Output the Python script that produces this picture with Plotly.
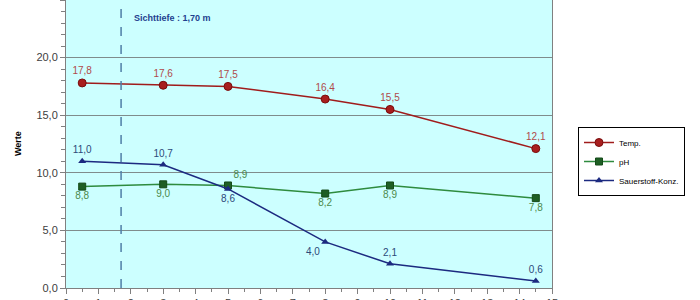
import plotly.graph_objects as go

depth = [0.5, 3.0, 5.0, 8.0, 10.0, 14.5]
temp = [17.8, 17.6, 17.5, 16.4, 15.5, 12.1]
ph = [8.8, 9.0, 8.9, 8.2, 8.9, 7.8]
oxygen = [11.0, 10.7, 8.6, 4.0, 2.1, 0.6]
sichttiefe = 1.70

def de(v):
    return f"{v:.1f}".replace(".", ",")

fig = go.Figure()

fig.add_trace(go.Scatter(
    x=depth, y=temp, name="Temp.", mode="lines+markers+text",
    line=dict(color="#A01C1C", width=1.5),
    marker=dict(symbol="circle", size=8, color="#A81E1E", line=dict(color="#7A0C0C", width=1)),
    text=[de(v) for v in temp], textposition="top center",
    textfont=dict(color="#B04A4A", size=10),
))
fig.add_trace(go.Scatter(
    x=depth, y=ph, name="pH", mode="lines+markers+text",
    line=dict(color="#2E8B3E", width=1.5),
    marker=dict(symbol="square", size=7, color="#1E5E24", line=dict(color="#144A18", width=1)),
    text=[de(v) for v in ph],
    textposition=["bottom center", "bottom center", "top right", "bottom center", "bottom center", "bottom center"],
    textfont=dict(color="#4C8A4C", size=10),
))
fig.add_trace(go.Scatter(
    x=depth, y=oxygen, name="Sauerstoff-Konz.", mode="lines+markers+text",
    line=dict(color="#1C2A80", width=1.5),
    marker=dict(symbol="triangle-up", size=7, color="#1C2A80"),
    text=[de(v) for v in oxygen],
    textposition=["top center", "top center", "bottom center", "bottom left", "top center", "top center"],
    textfont=dict(color="#2C4A7A", size=10),
))

fig.add_shape(type="line", xref="x", yref="paper", x0=sichttiefe, x1=sichttiefe, y0=0, y1=1,
              line=dict(color="#4F7FA6", width=1.5, dash="dash"))

fig.add_annotation(x=2.05, y=23.4, xref="x", yref="y", xanchor="left", yanchor="middle",
                   text="<b>Sichttiefe : 1,70 m</b>", showarrow=False,
                   font=dict(family="Liberation Sans", size=9, color="#1F3F8F"))

fig.add_annotation(x=(18 - 66) / 486, y=0.5, xref="paper", yref="paper", xanchor="center", yanchor="middle",
                   text="<b>Werte</b>", textangle=-90, showarrow=False,
                   font=dict(family="Liberation Sans", size=9, color="#000000"))

fig.update_layout(
    width=700, height=300,
    margin=dict(l=66, r=148, t=0, b=12, autoexpand=False),
    paper_bgcolor="white", plot_bgcolor="#CCFFFF",
    separators=",.",
    font=dict(family="Liberation Sans", size=11, color="#404040"),
    showlegend=True,
    legend=dict(x=(578 - 66) / 486, y=(288 - 127) / 288, xanchor="left", yanchor="top",
                bgcolor="white", bordercolor="#000000", borderwidth=1,
                font=dict(size=8, color="#000000"), tracegroupgap=0),
    xaxis=dict(range=[0, 15], dtick=1, tick0=0, showgrid=False, zeroline=False, automargin=False,
               showline=True, linecolor="#808080", linewidth=1, mirror=True,
               ticks="outside", ticklen=5, tickcolor="#808080",
               minor=dict(dtick=0.5, ticks="outside", ticklen=3, tickcolor="#808080", showgrid=False),
               tickfont=dict(size=11, color="#404040")),
    yaxis=dict(range=[0, 25], dtick=5, tick0=0, tickformat=".1f", automargin=False,
               showgrid=True, gridcolor="#7F8C8C", gridwidth=1, zeroline=False,
               showline=True, linecolor="#808080", linewidth=1, mirror=True,
               ticks="outside", ticklen=5, tickcolor="#808080",
               minor=dict(dtick=1, ticks="outside", ticklen=4, tickcolor="#808080", showgrid=False),
               tickfont=dict(size=11, color="#404040")),
)

fig.write_html("out.html")
